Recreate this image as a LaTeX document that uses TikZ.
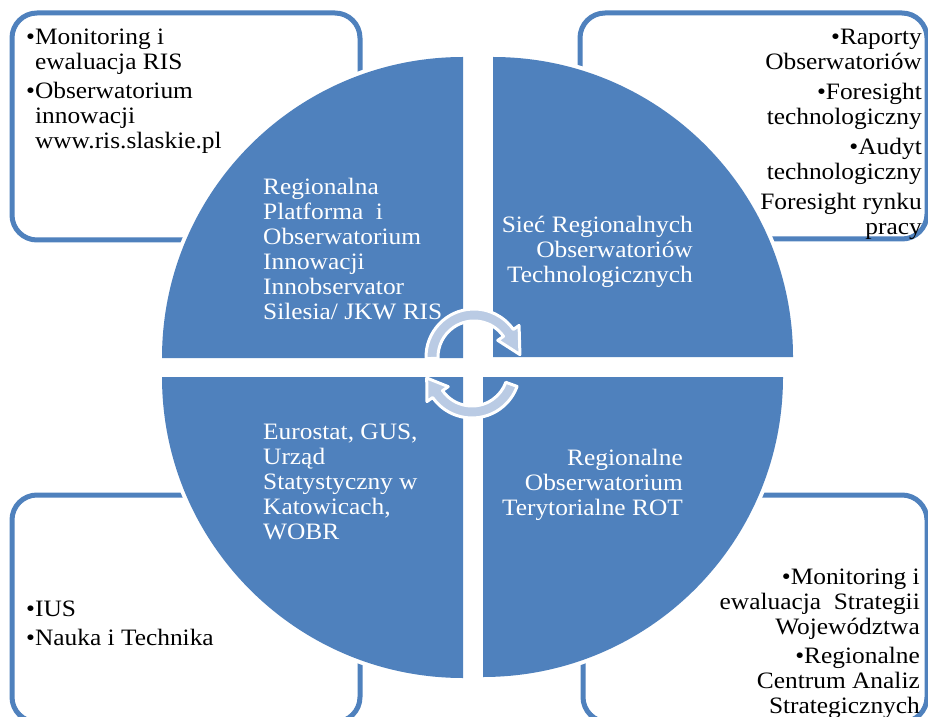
\documentclass[tikz,border=0pt]{standalone}
\usepackage{fontspec}
\setmainfont{Liberation Serif}[FakeStretch=1.08]
\definecolor{qblue}{RGB}{79,129,189}
\definecolor{arrowblue}{RGB}{186,203,228}
\newcommand\tbl[2]{\begin{tabular}[t]{@{}#1@{}}#2\end{tabular}}
\tikzset{
  cornerbox/.style={draw=qblue, line width=5pt, fill=white, rounded corners=25pt},
  quad/.style={fill=qblue, preaction={draw=white, line width=8pt}},
  qtext/.style={text=white, inner sep=0pt},
  btext/.style={text=black, inner sep=0pt},
  carrow/.style={fill=arrowblue, draw=white, line width=3pt, line join=round}
}
\begin{document}
\begin{tikzpicture}[x=1pt,y=1pt,font=\fontsize{23.5}{25}\selectfont]
\useasboundingbox (0,0) rectangle (928,716);
\clip (0,0) rectangle (928,716);
% corner boxes
\path[cornerbox] (12,476) rectangle (360,703);
\path[cornerbox] (580,477) rectangle (927,703);
\path[cornerbox] (12,-6) rectangle (360,221);
\path[cornerbox] (583,-6) rectangle (927,221);
% quadrants
\path[quad] (463,358) -- ++(-301,0) arc[start angle=180, end angle=90, radius=301] -- cycle;
\path[quad] (493,359) -- ++(0,300) arc[start angle=90, end angle=0, radius=300] -- cycle;
\path[quad] (483,339) -- ++(300,0) arc[start angle=0, end angle=-90, radius=300] -- cycle;
\path[quad] (463,339) -- ++(0,-301) arc[start angle=270, end angle=180, radius=301] -- cycle;
% box texts
\node[btext, anchor=base west] (tlt) at (26,671)
  {\tbl{l@{}l}{\textbullet&Monitoring i\\ &ewaluacja RIS\\[4pt]
   \textbullet&Obserwatorium\\ &innowacji\\ &www.ris.slaskie.pl}};
\node[btext, anchor=base east] (trt) at (922,671)
  {\tbl{r}{\textbullet Raporty\\ Obserwatoriów\\[5pt]
   \textbullet Foresight\\ technologiczny\\[5pt]
   \textbullet Audyt\\ technologiczny\\[5pt]
   Foresight rynku\\ pracy}};
\node[btext, anchor=base west] (blt) at (26,100)
  {\tbl{l@{}l}{\textbullet&IUS\\[4pt] \textbullet&Nauka i Technika}};
\node[btext, anchor=base east] (brt) at (920,132)
  {\tbl{r}{\textbullet Monitoring i\\ ewaluacja\ \ Strategii\\ Województwa\\[4pt]
   \textbullet Regionalne\\ Centrum Analiz\\ Strategicznych}};
% quadrant texts
\node[qtext, anchor=base west] (tlq) at (263,521)
  {\tbl{l}{Regionalna\\ Platforma\ \ i\\ Obserwatorium\\ Innowacji\\ Innobservator\\ Silesia/ JKW RIS}};
\node[qtext, anchor=base east] (trq) at (693,483)
  {\tbl{r}{Sieć Regionalnych\\ Obserwatoriów\\ Technologicznych}};
\node[qtext, anchor=base west] (blq) at (263,277)
  {\tbl{l}{Eurostat, GUS,\\ Urząd\\ Statystyczny w\\ Katowicach,\\ WOBR}};
\node[qtext, anchor=base east] (brq) at (683,251)
  {\tbl{r}{Regionalne\\ Obserwatorium\\ Terytorialne ROT}};
% circular arrows
\begin{scope}[shift={(474,359)}]
\path[carrow] (182:48) arc[start angle=182, end angle=35, radius=48]
  -- (35:55) -- (3:46) -- (35:29) -- (35:36)
  arc[start angle=35, end angle=182, radius=36] -- cycle;
\end{scope}
\begin{scope}[shift={(472,346)}]
\path[carrow] (-20:48) arc[start angle=-20, end angle=-145, radius=48]
  -- (-145:55) -- (-170:46) -- (-145:29) -- (-145:36)
  arc[start angle=-145, end angle=-20, radius=36] -- cycle;
\end{scope}
\end{tikzpicture}
\end{document}
